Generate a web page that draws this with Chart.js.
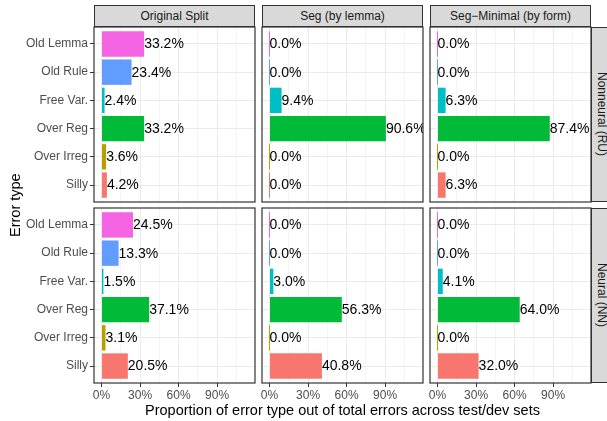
<!DOCTYPE html>
<html>
<head>
<meta charset="utf-8">
<script src="https://cdn.jsdelivr.net/npm/chart.js@4"></script>
<style>
  body { margin: 0; background: #fff; font-family: "Liberation Sans", Arial, sans-serif; }
  #wrap { position: relative; width: 607px; height: 421px; overflow: hidden; }
  #wrap canvas, .strip, .axis-title { position: absolute; }
  .strip {
    box-sizing: border-box;
    background: #d9d9d9;
    border: 1.2px solid #333;
    color: #1a1a1a;
    font-size: 12px;
    display: flex;
    align-items: center;
    justify-content: center;
  }
  .strip.side { writing-mode: vertical-rl; }
  .axis-title { color: #000; font-size: 14.5px; display: flex; align-items: center; justify-content: center; }
  #yTitle { writing-mode: vertical-rl; transform: rotate(180deg); }
</style>
</head>
<body>
<div id="wrap"></div>
<script>
const categories = ["Old Lemma", "Old Rule", "Free Var.", "Over Reg", "Over Irreg", "Silly"];
const categoryColors = ["#F564E3", "#619CFF", "#00BFC4", "#00BA38", "#B79F00", "#F8766D"];
const splits = ["Original Split", "Seg (by lemma)", "Seg\u2212Minimal (by form)"];
const systems = ["Nonneural (RU)", "Neural (NN)"];

// percent of errors, same order as categories
const ruOriginal = [33.2, 23.4, 2.4, 33.2, 3.6, 4.2];
const ruLemma = [0.0, 0.0, 9.4, 90.6, 0.0, 0.0];
const ruForm = [0.0, 0.0, 6.3, 87.4, 0.0, 6.3];
const nnOriginal = [24.5, 13.3, 1.5, 37.1, 3.1, 20.5];
const nnLemma = [0.0, 0.0, 3.0, 56.3, 0.0, 40.8];
const nnForm = [0.0, 0.0, 4.1, 64.0, 0.0, 32.0];

const xTicks = [0, 15, 30, 45, 60, 75, 90, 105];

const panelValues = [
  [ruOriginal, ruLemma, ruForm],
  [nnOriginal, nnLemma, nnForm],
];

// panel geometry (pixels)
const panelLeft = [94, 262, 430];
const panelTop = [27, 208];
const panelW = 161;
const panelH = 175;
const pad = 10;
const xAxisSpace = 20;

Chart.defaults.font.family = '"Liberation Sans", Arial, sans-serif';
Chart.defaults.font.size = 12;

// ▼ bar value labels, clipped to the panel like ggplot
const valueLabels = {
  id: "valueLabels",
  afterDatasetsDraw(chart) {
    const { ctx, chartArea: a, scales } = chart;
    const meta = chart.getDatasetMeta(0);
    ctx.save();
    ctx.beginPath();
    ctx.rect(a.left, a.top, a.width, a.height);
    ctx.clip();
    ctx.fillStyle = "#000";
    ctx.font = '14px "Liberation Sans", Arial, sans-serif';
    ctx.textAlign = "left";
    ctx.textBaseline = "middle";
    meta.data.forEach((bar, i) => {
      const v = chart.data.datasets[0].data[i].x;
      ctx.fillText(v.toFixed(1) + "%", scales.x.getPixelForValue(v), bar.y + 0.5);
    });
    ctx.restore();
  },
};

// ▼ panel outline
const panelBorder = {
  id: "panelBorder",
  afterDraw(chart) {
    const { ctx, chartArea: a } = chart;
    ctx.save();
    ctx.strokeStyle = "#333";
    ctx.lineWidth = 1.2;
    ctx.strokeRect(a.left, a.top, a.width, a.height);
    ctx.restore();
  },
};

const wrap = document.getElementById("wrap");

function addDiv(cls, text, left, top, width, height, id) {
  const d = document.createElement("div");
  d.className = cls;
  if (id) d.id = id;
  d.textContent = text;
  Object.assign(d.style, {
    left: left + "px",
    top: top + "px",
    width: width + "px",
    height: height + "px",
  });
  wrap.appendChild(d);
}

function makePanel(r, c) {
  const values = panelValues[r][c];
  const showY = c === 0;
  const showX = r === 1;
  const yAxisW = showY ? panelLeft[0] : 0;
  const padLeft = showY ? 0 : pad;
  const padBottom = showX ? 0 : pad;
  const xAxisH = showX ? xAxisSpace : 0;

  const canvas = document.createElement("canvas");
  canvas.width = padLeft + yAxisW + panelW + pad;
  canvas.height = pad + panelH + xAxisH + padBottom;
  canvas.style.left = (showY ? 0 : panelLeft[c] - pad) + "px";
  canvas.style.top = panelTop[r] - pad + "px";
  wrap.appendChild(canvas);

  new Chart(canvas, {
    type: "bar",
    data: {
      datasets: [
        {
          data: values.map((v, i) => ({ x: v, y: categories.length - i })),
          backgroundColor: categoryColors,
          categoryPercentage: 1,
          barPercentage: 0.9,
          minBarLength: 1,
        },
      ],
    },
    options: {
      indexAxis: "y",
      responsive: false,
      animation: false,
      events: [],
      layout: { padding: { left: padLeft, right: pad, top: pad, bottom: padBottom } },
      plugins: { legend: { display: false }, tooltip: { enabled: false } },
      scales: {
        x: {
          type: "linear",
          min: -5.84,
          max: 119.5,
          afterBuildTicks: (s) => {
            s.ticks = xTicks.map((v) => ({ value: v }));
          },
          afterFit: (s) => {
            s.height = xAxisH;
          },
          border: { display: false },
          grid: {
            color: "#EBEBEB",
            lineWidth: (ctx) => (ctx.tick && ctx.tick.value % 30 === 0 ? 1 : 0.5),
            tickColor: (ctx) => (ctx.tick && ctx.tick.value % 30 === 0 ? "#333" : "rgba(0,0,0,0)"),
            drawTicks: showX,
            tickLength: 4,
          },
          ticks: {
            display: showX,
            autoSkip: false,
            maxRotation: 0,
            padding: 1,
            color: "#4D4D4D",
            font: { size: 12 },
            callback: (v) => (v % 30 === 0 ? v + "%" : ""),
          },
        },
        y: {
          type: "linear",
          offset: false,
          min: 0.4,
          max: 6.6,
          afterBuildTicks: (s) => {
            s.ticks = categories.map((_, i) => ({ value: i + 1 }));
          },
          afterFit: (s) => {
            s.width = yAxisW;
          },
          border: { display: false },
          grid: {
            offset: false,
            color: "#EBEBEB",
            tickColor: "#333",
            drawTicks: showY,
            tickLength: 4,
          },
          ticks: {
            display: showY,
            autoSkip: false,
            padding: 2,
            color: "#4D4D4D",
            font: { size: 12 },
            callback: (v) => categories[categories.length - v],
          },
        },
      },
    },
    plugins: [valueLabels, panelBorder],
  });
}

splits.forEach((name, c) => {
  addDiv("strip", name, panelLeft[c], 5, panelW, panelTop[0] - 5);
});
systems.forEach((name, r) => {
  addDiv("strip side", name, panelLeft[2] + panelW, panelTop[r], 22, panelH);
});

for (let r = 0; r < 2; r++) {
  for (let c = 0; c < 3; c++) {
    makePanel(r, c);
  }
}

addDiv(
  "axis-title",
  "Proportion of error type out of total errors across test/dev sets",
  panelLeft[0],
  401,
  panelLeft[2] + panelW - panelLeft[0],
  18,
);
addDiv("axis-title", "Error type", 6, panelTop[0], 18, panelTop[1] + panelH - panelTop[0], "yTitle");
</script>
</body>
</html>
